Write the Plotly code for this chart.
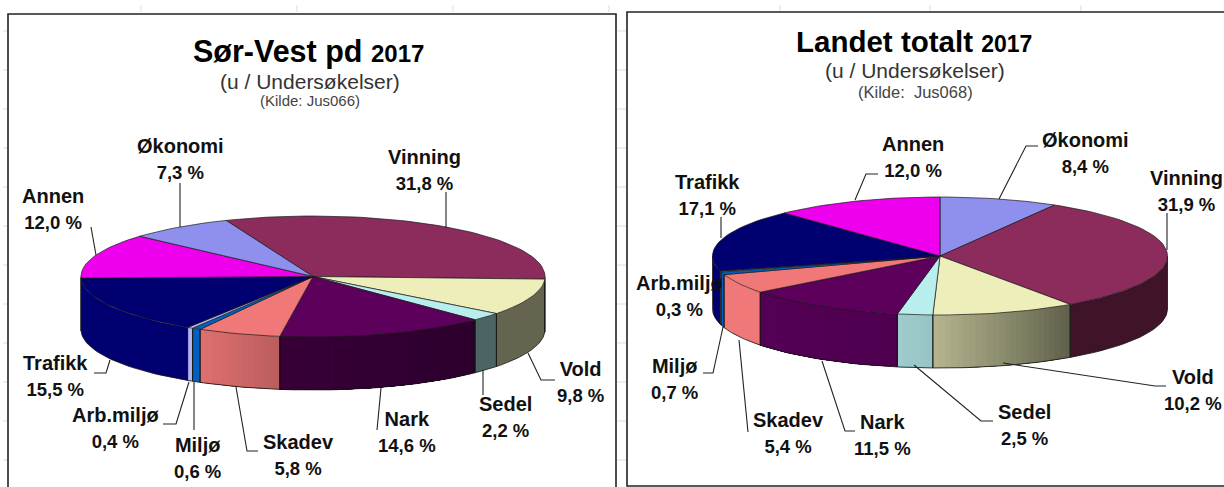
import math
import plotly.graph_objects as go

# ---- data ----
left_names = ["Vinning", "Vold", "Sedel", "Nark", "Skadev", "Miljø", "Arb.miljø", "Trafikk", "Annen", "Økonomi"]
left_values = [31.8, 9.8, 2.2, 14.6, 5.8, 0.6, 0.4, 15.5, 12.0, 7.3]
right_names = ["Økonomi", "Vinning", "Vold", "Sedel", "Nark", "Skadev", "Miljø", "Arb.miljø", "Trafikk", "Annen"]
right_values = [8.4, 31.9, 10.2, 2.5, 11.5, 5.4, 0.7, 0.3, 17.1, 12.0]

# ---- styles ----
COL = {"Vinning": "#8B2C5C", "Vold": "#EEEEBB", "Sedel": "#B8EEEE", "Nark": "#5C005C", "Skadev": "#F07878",
       "Miljø": "#0060C0", "Arb.miljø": "#B4B4F0", "Trafikk": "#000070", "Annen": "#EE00EE", "Økonomi": "#8F8FEE"}
# wall shade (at clockwise start, at clockwise end)
left_shade = {"Vold": (.42, .42), "Sedel": (.42, .42), "Nark": (.48, .6), "Skadev": (.78, .93)}
right_shade = {"Vinning": (.45, .45), "Vold": (.40, .76), "Sedel": (.82, .86), "Nark": (.86, .92)}
FONT = "Liberation Sans"


def pt(g, t, dz=0):
    return g["cx"] + g["rx"] * math.sin(math.radians(t)), g["cy"] - g["ry"] * math.cos(math.radians(t)) + dz


def shaded(hexc, f):
    r, g, b = int(hexc[1:3], 16), int(hexc[3:5], 16), int(hexc[5:7], 16)
    return f"rgb({r*f:.0f},{g*f:.0f},{b*f:.0f})"


def poly(fig, xs, ys, color, line=None, width=0.0):
    fig.add_trace(go.Scatter(x=xs, y=ys, mode="lines", fill="toself", fillcolor=color,
                             line=dict(color=line or color, width=width if line else 0),
                             hoverinfo="skip", showlegend=False))


def wall(fig, g, l, h, color):
    n = max(2, int((h - l) / 2))
    ts = [l + (h - l) * k / n for k in range(n + 1)]
    pts = [pt(g, t) for t in ts] + [pt(g, t, g["depth"]) for t in reversed(ts)]
    poly(fig, [p[0] for p in pts] + [pts[0][0]], [p[1] for p in pts] + [pts[0][1]], color)


def pie(fig, g, names, values, start, shade):
    ang = [start]
    for v in values:
        ang.append(ang[-1] + v * 3.6)
    edge_x, edge_y = [], []
    for i, n in enumerate(names):
        a, b = ang[i], ang[i + 1]
        for lo, hi in ((a, b), (a + 360, b + 360), (a - 360, b - 360)):
            l, h = max(lo, 90), min(hi, 270)
            if h <= l:
                continue
            s0, s1 = shade.get(n, (1, 1))
            steps = 1 if s0 == s1 else max(1, int((h - l) / 1.5))
            # painter's order: each band reaches the slice end, so no seams appear
            for k in range(steps):
                t0 = l + (h - l) * k / steps
                f = s0 + (s1 - s0) * (k + .5) / steps
                wall(fig, g, t0, h, shaded(COL[n], f))
            arc = [pt(g, l + (h - l) * k / 30, g["depth"]) for k in range(31)]
            edge_x += [p[0] for p in arc] + [None]
            edge_y += [p[1] for p in arc] + [None]
            for t in (l, h):
                p, q = pt(g, t), pt(g, t, g["depth"])
                edge_x += [p[0], q[0], None]
                edge_y += [p[1], q[1], None]
    fig.add_trace(go.Scatter(x=edge_x, y=edge_y, mode="lines", line=dict(color="#111", width=0.8),
                             hoverinfo="skip", showlegend=False))
    for i, n in enumerate(names):
        a, b = ang[i], ang[i + 1]
        steps = max(2, int((b - a) / 2))
        pts = [(g["cx"], g["cy"])] + [pt(g, a + (b - a) * k / steps) for k in range(steps + 1)] + [(g["cx"], g["cy"])]
        poly(fig, [p[0] for p in pts], [p[1] for p in pts], COL[n], "#1a1a1a", 0.7)


fig = go.Figure()

# faint spreadsheet grid stubs
grid_x, grid_y = [], []
for x in (141, 297, 453, 609, 780, 930, 1081):
    grid_x += [x, x, None]
    grid_y += [5, 12, None]
for y0, x0, x1 in ((31, 3, 8), (31, 617, 627)):
    for k in range(12):
        grid_x += [x0, x1, None]
        grid_y += [y0 + 39 * k, y0 + 39 * k, None]
fig.add_trace(go.Scatter(x=grid_x, y=grid_y, mode="lines", line=dict(color="#DDDDDD", width=1),
                         hoverinfo="skip", showlegend=False))

G_L = dict(cx=313, cy=276.5, rx=232, ry=60.5, depth=53)
G_R = dict(cx=940, cy=256, rx=227.5, ry=59, depth=53)
pie(fig, G_L, left_names, left_values, -22, left_shade)
pie(fig, G_R, right_names, right_values, 0, right_shade)

# leader lines
leaders = [
    [(180, 183), (180, 227)], [(446, 192), (446, 228)], [(91, 227), (96, 255)],
    [(94, 373), (106, 373), (110, 360)], [(163, 424), (176, 424), (189, 382)], [(194, 382), (194, 430)],
    [(236, 387), (247, 451), (258, 451)], [(381, 388), (377, 430)], [(483, 370), (483, 395)],
    [(528, 353), (541, 380), (555, 380)],
    [(721, 217), (721, 238)], [(878, 174), (866, 174), (855, 200)], [(1038, 146), (1026, 146), (999, 199)],
    [(1167, 213), (1167, 250)], [(703, 373), (713, 373), (723, 327)], [(748, 432), (739, 340)],
    [(855, 431), (845, 431), (822, 361)], [(993, 421), (981, 421), (914, 365)],
    [(1166, 386), (1155, 386), (1003, 363)],
]
lx, ly = [], []
for seg in leaders:
    lx += [p[0] for p in seg] + [None]
    ly += [p[1] for p in seg] + [None]
fig.add_trace(go.Scatter(x=lx, y=ly, mode="lines", line=dict(color="#222", width=1.1),
                         hoverinfo="skip", showlegend=False))

# label centres
left_pos = {"Vinning": (424, 170), "Økonomi": (180, 159), "Annen": (53, 209), "Trafikk": (55, 376),
            "Arb.miljø": (115, 428), "Miljø": (197, 458), "Skadev": (298, 455), "Nark": (407, 432),
            "Sedel": (505, 417), "Vold": (580, 382)}
right_pos = {"Annen": (913, 157), "Økonomi": (1085, 153), "Vinning": (1186, 191), "Trafikk": (707, 195),
             "Arb.miljø": (679, 296), "Miljø": (674, 379), "Skadev": (788, 433), "Nark": (882, 435),
             "Sedel": (1024, 425), "Vold": (1193, 390)}


def note(x, y, text, size, color="#111"):
    fig.add_annotation(x=x, y=y, text=text, showarrow=False, xanchor="center", yanchor="middle", align="center",
                       font=dict(family=FONT, size=size, color=color))


for names, values, pos in ((left_names, left_values, left_pos), (right_names, right_values, right_pos)):
    for n, v in zip(names, values):
        label = f"{v:.1f}".replace(".", ",") + " %"
        note(pos[n][0], pos[n][1], f"<b>{n}<br><span style='font-size:18.5px'>{label}</span></b>", 20)

note(308, 51, "<b>Sør-Vest pd <span style='font-size:24px'>2017</span></b>", 30.5, "#000")
note(310, 81, "(u / Undersøkelser)", 21, "#333")
note(310, 100, "(Kilde: Jus066)", 15, "#444")
note(914, 41, "<b>Landet totalt <span style='font-size:23px'>2017</span></b>", 29.5, "#000")
note(915, 70, "(u / Undersøkelser)", 21, "#333")
note(915, 92, "(Kilde:\u00a0\u00a0Jus068)", 16.5, "#444")

box = dict(type="rect", xref="x", yref="y", line=dict(color="#222", width=1.6), fillcolor="rgba(0,0,0,0)")
fig.add_shape(x0=8, y0=14, x1=616, y1=495, **box)
fig.add_shape(x0=627, y0=12, x1=1230, y1=486, **box)

fig.update_layout(width=1224, height=487, margin=dict(l=0, r=0, t=0, b=0), paper_bgcolor="white",
                  plot_bgcolor="white", showlegend=False,
                  xaxis=dict(range=[0, 1224], visible=False, fixedrange=True),
                  yaxis=dict(range=[487, 0], visible=False, fixedrange=True))
fig.write_html("out.html", config={"displayModeBar": False},
               post_script="document.body.style.margin='0';document.documentElement.style.overflow='hidden';")
